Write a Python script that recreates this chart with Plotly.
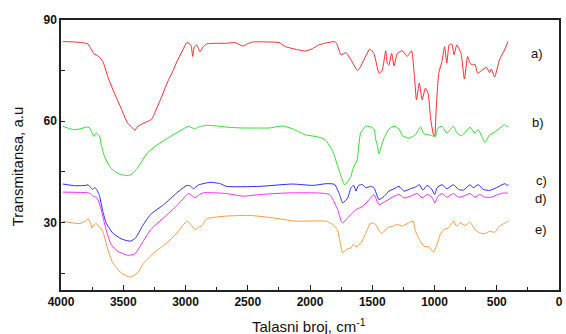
import plotly.graph_objects as go

# FTIR spectra: wavenumber (cm^-1) and transmittance (a.u.) for samples a) - e)
a_wn = [3985, 3900, 3830, 3783, 3760, 3735, 3700, 3664, 3624, 3571, 3518, 3466, 3439, 3420,
        3407, 3390, 3373, 3333, 3290, 3267, 3254, 3200, 3148, 3100, 3069, 3030, 2989, 2970,
        2955, 2942, 2930, 2910, 2884, 2860, 2831, 2750, 2672, 2600, 2540, 2500, 2460, 2350,
        2249, 2196, 2100, 2037, 1980, 1931, 1870, 1803, 1786, 1751, 1711, 1671, 1617, 1580,
        1520, 1487, 1445, 1420, 1392, 1379, 1366, 1344, 1325, 1299, 1259, 1219, 1185, 1159,
        1145, 1122, 1099, 1073, 1051, 1033, 1012, 998, 988, 966, 940, 919, 901, 882, 861,
        843, 821, 787, 760, 734, 715, 696, 675, 653, 623, 583, 557, 544, 517, 478, 438, 410]
a_val = [83.6, 83.5, 83.3, 82.9, 81.5, 80.0, 79.3, 77.7, 73.2, 68.3, 63.9, 59.5, 58.5, 57.8,
         57.3, 58.2, 58.7, 59.5, 60.2, 60.8, 61.9, 66.5, 71.3, 75.0, 77.7, 80.5, 83.3, 83.0,
         82.4, 79.2, 82.0, 82.6, 80.6, 82.0, 82.9, 83.1, 83.1, 83.3, 82.3, 83.0, 83.5, 83.5,
         83.3, 82.1, 81.2, 80.8, 81.5, 82.6, 83.2, 83.6, 83.1, 79.7, 80.3, 78.2, 75.0, 77.2,
         81.4, 80.1, 74.2, 75.1, 80.9, 77.2, 76.7, 80.1, 76.4, 80.1, 80.9, 79.2, 80.9, 72.3,
         66.4, 71.3, 66.4, 69.8, 68.2, 61.4, 56.5, 55.5, 62.4, 74.2, 77.7, 82.1, 77.2, 82.6, 82.9,
         79.7, 82.6, 80.1, 72.5, 79.2, 77.2, 76.7, 76.9, 74.2, 75.0, 76.0, 74.4, 75.5, 73.1, 78.2, 81.1, 83.6]

b_wn = [3985, 3930, 3889, 3840, 3796, 3770, 3756, 3736, 3717, 3690, 3677, 3651, 3624, 3600,
        3571, 3530, 3492, 3450, 3426, 3390, 3360, 3307, 3228, 3122, 3042, 2976, 2950, 2923,
        2900, 2871, 2831, 2750, 2650, 2540, 2430, 2328, 2222, 2143, 2037, 1931, 1878, 1817,
        1777, 1750, 1724, 1710, 1670, 1658, 1621, 1594, 1553, 1511, 1485, 1472, 1460, 1446,
        1432, 1405, 1366, 1325, 1285, 1259, 1206, 1153, 1112, 1086, 1046, 1020, 993, 972, 940,
        901, 848, 821, 782, 715, 675, 649, 622, 595, 557, 530, 490, 438, 420, 405]
b_val = [58.5, 57.8, 57.5, 57.8, 58.3, 58.0, 57.0, 55.5, 56.5, 55.5, 53.0, 49.6, 47.6, 46.2,
         45.2, 44.3, 44.0, 44.0, 44.5, 46.0, 47.6, 50.6, 53.0, 55.5, 57.2, 58.5, 58.1, 57.7,
         58.2, 58.5, 58.8, 58.6, 58.2, 58.0, 58.0, 58.0, 58.6, 57.8, 56.0, 55.3, 54.5, 51.1,
         46.6, 43.7, 41.2, 41.5, 43.7, 45.7, 48.6, 56.5, 58.5, 58.3, 57.7, 54.5, 53.0, 50.4,
         52.0, 55.0, 57.7, 58.5, 57.7, 55.7, 55.0, 56.0, 58.3, 56.3, 56.0, 55.7, 55.5, 58.0, 58.5,
         56.5, 58.5, 56.6, 55.7, 58.2, 56.5, 57.5, 55.7, 53.7, 56.0, 56.5, 57.5, 59.0, 58.5, 58.3]

c_wn = [3985, 3889, 3800, 3783, 3765, 3745, 3730, 3717, 3700, 3690, 3664, 3638, 3585, 3518,
        3470, 3439, 3399, 3347, 3280, 3175, 3069, 2989, 2960, 2937, 2897, 2804, 2720, 2672,
        2407, 2143, 1975, 1869, 1803, 1763, 1737, 1697, 1671, 1647, 1631, 1610, 1578, 1552,
        1512, 1486, 1446, 1406, 1366, 1325, 1285, 1246, 1193, 1153, 1121, 1094, 1059, 1025,
        998, 980, 940, 901, 848, 807, 767, 715, 689, 649, 609, 557, 503, 436, 416, 405]
c_val = [41.4, 40.9, 41.0, 41.2, 40.5, 39.8, 40.3, 40.0, 38.8, 37.8, 33.3, 29.9, 26.9, 25.2,
         24.6, 24.5, 25.5, 28.9, 32.4, 35.3, 38.8, 41.0, 40.8, 40.0, 41.1, 41.9, 41.5, 40.7,
         40.7, 41.4, 41.0, 41.5, 41.3, 38.3, 35.8, 37.3, 40.3, 41.0, 39.3, 41.0, 41.2, 40.3,
         40.7, 40.3, 36.8, 37.7, 39.3, 40.0, 40.7, 39.3, 40.0, 40.5, 41.2, 39.6, 41.0, 40.0,
         38.3, 40.3, 41.2, 40.0, 41.2, 39.8, 39.6, 41.2, 40.3, 41.2, 39.8, 39.5, 40.3, 41.5, 41.0, 41.2]

d_wn = [3985, 3783, 3760, 3743, 3717, 3700, 3677, 3638, 3598, 3545, 3466, 3420, 3399, 3347,
        3280, 3175, 3069, 2976, 2950, 2923, 2890, 2857, 2672, 2540, 2400, 2143, 1843, 1790,
        1777, 1750, 1737, 1684, 1631, 1578, 1524, 1486, 1446, 1392, 1339, 1285, 1246, 1193,
        1140, 1099, 1059, 1020, 998, 972, 940, 901, 848, 808, 755, 715, 675, 636, 596, 543,
        491, 438, 411]
d_val = [39.0, 38.8, 38.5, 37.8, 37.5, 36.5, 33.8, 27.9, 23.5, 21.5, 20.3, 20.5, 21.0, 24.0,
         27.9, 31.4, 35.0, 38.6, 38.0, 37.3, 38.2, 38.8, 38.6, 37.8, 38.3, 38.8, 38.3, 34.8,
         33.8, 30.4, 29.9, 31.9, 33.8, 34.8, 36.8, 38.3, 35.3, 36.3, 37.5, 38.3, 37.3, 37.8,
         38.6, 37.3, 38.3, 37.5, 35.8, 37.8, 38.6, 37.5, 38.6, 37.5, 38.0, 38.6, 37.5, 38.3,
         37.5, 37.5, 38.3, 38.8, 38.6]

e_wn = [3985, 3915, 3849, 3800, 3783, 3765, 3751, 3735, 3717, 3700, 3690, 3664, 3624, 3585,
        3518, 3444, 3386, 3333, 3254, 3148, 3069, 2989, 2960, 2923, 2897, 2870, 2831, 2672,
        2487, 2302, 2117, 1870, 1817, 1790, 1777, 1763, 1737, 1711, 1671, 1652, 1631, 1590,
        1551, 1511, 1472, 1445, 1419, 1379, 1339, 1299, 1259, 1219, 1172, 1153, 1121, 1086,
        1046, 1007, 980, 954, 927, 887, 848, 821, 795, 755, 715, 675, 636, 596, 557, 517,
        478, 417, 405]
e_val = [30.4, 29.9, 29.7, 30.5, 31.2, 30.0, 28.4, 29.3, 29.7, 29.0, 28.7, 27.4, 22.0, 18.1,
         15.1, 13.8, 15.1, 18.1, 21.0, 24.0, 26.9, 30.4, 29.5, 27.9, 28.5, 29.0, 31.1, 31.9,
         32.1, 31.4, 30.4, 30.4, 29.4, 28.4, 27.5, 25.0, 21.0, 22.0, 22.5, 23.5, 22.8, 24.0,
         26.9, 29.9, 29.4, 27.4, 26.9, 28.4, 28.9, 29.4, 28.9, 29.7, 30.4, 27.4, 25.0, 23.0,
         22.8, 21.2, 23.5, 26.4, 27.9, 28.4, 30.4, 28.9, 29.9, 29.1, 30.1, 27.9, 26.9, 26.7,
         27.4, 27.1, 28.9, 30.2, 30.4]

series = [
    ("a)", a_wn, a_val, "#ff2a2a"),
    ("b)", b_wn, b_val, "#2ee02e"),
    ("c)", c_wn, c_val, "#2a2aff"),
    ("d)", d_wn, d_val, "#ff2aff"),
    ("e)", e_wn, e_val, "#ff9a3c"),
]

# curve labels placed to the right of each spectrum
label_text = ["a)", "b)", "c)", "d)", "e)"]
label_wn = [180, 172, 140, 145, 145]
label_y = [80.0, 59.5, 42.3, 37.0, 27.8]

FONT = "Liberation Sans, Arial, sans-serif"
AXIS_COLOR = "#222222"

fig = go.Figure()
for name, wn, val, color in series:
    fig.add_trace(go.Scatter(
        x=wn, y=val, mode="lines", name=name,
        line=dict(color=color, width=1, shape="spline", smoothing=0.5),
        showlegend=False,
    ))

for t, xw, yv in zip(label_text, label_wn, label_y):
    fig.add_annotation(x=xw, y=yv, xref="x", yref="y", text=t, showarrow=False,
                       xanchor="center", yanchor="middle",
                       font=dict(family=FONT, size=13, color="#111111"))

# axis titles
fig.add_annotation(x=0.498, y=-0.13, xref="paper", yref="paper",
                   text="Talasni broj, cm<sup>-1</sup>", showarrow=False,
                   xanchor="center", yanchor="middle",
                   font=dict(family=FONT, size=15, color="#111111"))
fig.add_annotation(x=-0.088, y=0.459, xref="paper", yref="paper",
                   text="Transmitansa, a.u", showarrow=False, textangle=-90,
                   xanchor="center", yanchor="middle",
                   font=dict(family=FONT, size=15, color="#111111"))

fig.update_layout(
    width=566, height=334,
    margin=dict(l=61, r=3, t=20, b=44),
    paper_bgcolor="white", plot_bgcolor="white",
    font=dict(family=FONT, color="#111111"),
)
fig.update_xaxes(
    range=[4000, 0], tick0=0, dtick=500,
    ticks="inside", ticklen=5, tickwidth=1.2, tickcolor=AXIS_COLOR,
    minor=dict(dtick=250, ticks="inside", ticklen=3, tickcolor=AXIS_COLOR, tickwidth=1.2),
    showline=True, linecolor=AXIS_COLOR, linewidth=1.5, mirror=True,
    showgrid=False, zeroline=False,
    tickfont=dict(family=FONT, size=12, color="#111111", weight="bold"),
)
fig.update_yaxes(
    range=[10, 90], tick0=0, dtick=30,
    ticks="inside", ticklen=4, tickwidth=1.2, tickcolor=AXIS_COLOR,
    minor=dict(dtick=15, ticks="inside", ticklen=4, tickcolor=AXIS_COLOR, tickwidth=1.2),
    showline=True, linecolor=AXIS_COLOR, linewidth=1.5, mirror=True,
    showgrid=False, zeroline=False,
    tickfont=dict(family=FONT, size=12, color="#111111", weight="bold"),
)

fig.write_html("out.html")
